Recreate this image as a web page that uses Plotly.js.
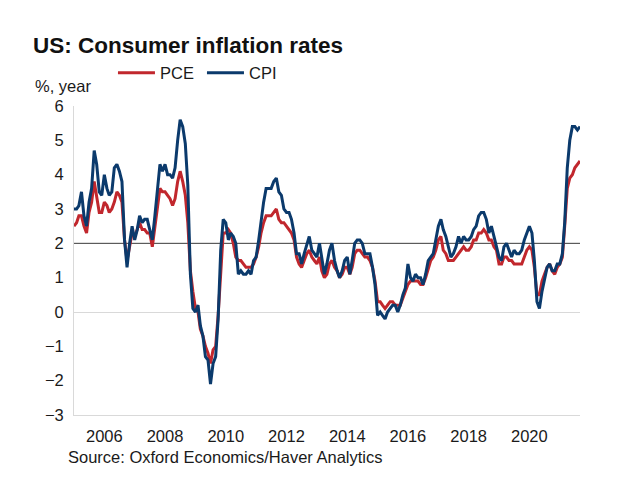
<!DOCTYPE html>
<html>
<head>
<meta charset="utf-8">
<script src="https://cdn.plot.ly/plotly-3.0.1.min.js"></script>
<style>
  html, body { margin: 0; padding: 0; background: #fff; }
  #chart { width: 630px; height: 499px; }
</style>
</head>
<body>
<div id="chart"></div>
<script>
// Monthly data, Jan 2005 .. Sep 2021 (year-on-year %)
const startYear = 2005;
const cpi = [
  3.0, 3.0, 3.1, 3.5, 2.8, 2.5, 3.2, 3.6, 4.7, 4.3, 3.5, 3.4,   // 2005
  4.0, 3.6, 3.4, 3.5, 4.2, 4.3, 4.1, 3.8, 2.1, 1.3, 2.0, 2.5,   // 2006
  2.1, 2.4, 2.8, 2.6, 2.7, 2.7, 2.4, 2.1, 2.8, 3.5, 4.3, 4.1,   // 2007
  4.3, 4.0, 4.0, 3.9, 4.2, 5.0, 5.6, 5.4, 4.9, 3.7, 1.1, 0.1,   // 2008
  0.0, 0.2, -0.4, -0.7, -1.3, -1.4, -2.1, -1.5, -1.3, -0.2, 1.8, 2.7, // 2009
  2.6, 2.1, 2.3, 2.2, 2.0, 1.1, 1.2, 1.1, 1.1, 1.2, 1.1, 1.5,   // 2010
  1.6, 2.1, 2.7, 3.2, 3.6, 3.6, 3.6, 3.8, 3.9, 3.5, 3.4, 3.0,   // 2011
  2.9, 2.9, 2.7, 2.3, 1.7, 1.7, 1.4, 1.7, 2.0, 2.2, 1.8, 1.7,   // 2012
  1.6, 2.0, 1.5, 1.1, 1.4, 1.8, 2.0, 1.5, 1.2, 1.0, 1.2, 1.5,   // 2013
  1.6, 1.1, 1.5, 2.0, 2.1, 2.1, 2.0, 1.7, 1.7, 1.7, 1.3, 0.8,   // 2014
  -0.1, 0.0, -0.1, -0.2, 0.0, 0.1, 0.2, 0.2, 0.0, 0.2, 0.5, 0.7, // 2015
  1.4, 1.0, 0.9, 1.1, 1.0, 1.0, 0.8, 1.1, 1.5, 1.6, 1.7, 2.1,   // 2016
  2.5, 2.7, 2.4, 2.2, 1.9, 1.6, 1.7, 1.9, 2.2, 2.0, 2.2, 2.1,   // 2017
  2.1, 2.2, 2.4, 2.5, 2.8, 2.9, 2.9, 2.7, 2.3, 2.5, 2.2, 1.9,   // 2018
  1.6, 1.5, 1.9, 2.0, 1.8, 1.6, 1.8, 1.7, 1.7, 1.8, 2.1, 2.3,   // 2019
  2.5, 2.3, 1.5, 0.3, 0.1, 0.6, 1.0, 1.3, 1.4, 1.2, 1.2, 1.4,   // 2020
  1.4, 1.7, 2.6, 4.2, 5.0, 5.4, 5.4, 5.3, 5.4                   // 2021
];
const pce = [
  2.5, 2.6, 2.8, 2.8, 2.5, 2.3, 2.9, 3.2, 3.8, 3.4, 2.9, 2.9,   // 2005
  3.2, 3.1, 2.9, 3.0, 3.2, 3.5, 3.4, 3.2, 2.1, 1.5, 1.9, 2.3,   // 2006
  2.2, 2.4, 2.6, 2.4, 2.4, 2.3, 2.3, 1.9, 2.5, 3.1, 3.6, 3.5,   // 2007
  3.5, 3.4, 3.3, 3.1, 3.3, 3.8, 4.1, 3.8, 3.4, 2.6, 1.2, 0.6,   // 2008
  0.1, 0.0, -0.5, -0.7, -1.0, -1.2, -1.5, -1.1, -1.0, -0.1, 1.3, 2.3, // 2009
  2.3, 2.4, 2.3, 2.0, 1.6, 1.5, 1.5, 1.4, 1.3, 1.3, 1.3, 1.4,   // 2010
  1.6, 1.9, 2.3, 2.6, 2.8, 2.8, 2.8, 2.9, 3.0, 2.7, 2.6, 2.6,   // 2011
  2.5, 2.4, 2.3, 2.1, 1.6, 1.4, 1.3, 1.5, 1.7, 1.8, 1.6, 1.5,   // 2012
  1.4, 1.6, 1.2, 1.0, 1.1, 1.4, 1.5, 1.3, 1.2, 1.0, 1.1, 1.3,   // 2013
  1.3, 1.1, 1.3, 1.7, 1.8, 1.8, 1.7, 1.6, 1.6, 1.5, 1.3, 0.9,   // 2014
  0.3, 0.3, 0.2, 0.1, 0.2, 0.3, 0.3, 0.2, 0.2, 0.2, 0.4, 0.6,   // 2015
  0.8, 0.9, 0.9, 0.9, 0.9, 0.8, 0.8, 1.0, 1.3, 1.5, 1.6, 1.8,   // 2016
  2.1, 2.2, 1.8, 1.7, 1.5, 1.5, 1.5, 1.6, 1.7, 1.8, 1.9, 1.8,   // 2017
  1.8, 1.9, 2.1, 2.1, 2.3, 2.3, 2.4, 2.3, 2.1, 2.1, 1.9, 1.8,   // 2018
  1.4, 1.4, 1.6, 1.6, 1.5, 1.5, 1.4, 1.4, 1.4, 1.4, 1.6, 1.8,   // 2019
  1.9, 1.8, 1.3, 0.5, 0.5, 0.9, 1.1, 1.3, 1.4, 1.2, 1.1, 1.3,   // 2020
  1.4, 1.6, 2.5, 3.6, 3.9, 4.0, 4.2, 4.3, 4.4                   // 2021
];
const tickYears = ['2006', '2008', '2010', '2012', '2014', '2016', '2018', '2020'];
const yTicks = [-3, -2, -1, 0, 1, 2, 3, 4, 5, 6];
const targetRate = 2;

const months = cpi.map((_, i) => {
  const y = startYear + Math.floor(i / 12);
  const m = (i % 12) + 1;
  return y + '-' + (m < 10 ? '0' + m : m) + '-01';
});

const FONT = 'Liberation Sans, Arial, sans-serif';
const FS = 16.5;
const RED = '#c1272d';
const BLUE = '#0b3a6c';

const traces = [
  { x: months, y: pce, name: 'PCE', type: 'scatter', mode: 'lines',
    line: { color: RED, width: 3 } },
  { x: months, y: cpi, name: 'CPI', type: 'scatter', mode: 'lines',
    line: { color: BLUE, width: 3 } }
];

const layout = {
  width: 630, height: 499,
  paper_bgcolor: '#ffffff', plot_bgcolor: '#ffffff',
  margin: { l: 74, r: 50, t: 106, b: 84 },
  font: { family: FONT, size: FS, color: '#1a1a1a' },
  title: {
    text: '<b>US: Consumer inflation rates</b>',
    font: { family: FONT, size: 22.5, color: '#111' },
    xref: 'container', yref: 'container',
    x: 33 / 630, xanchor: 'left',
    y: 1 - 45 / 499, yanchor: 'middle'
  },
  showlegend: true,
  legend: {
    orientation: 'h', xref: 'paper', yref: 'paper',
    x: 0.077, xanchor: 'left', y: (415 - 73) / 309, yanchor: 'middle',
    font: { family: FONT, size: FS, color: '#1a1a1a' },
    bgcolor: 'rgba(0,0,0,0)', borderwidth: 0,
    itemwidth: 37,
    entrywidth: 37, entrywidthmode: 'pixels', traceorder: 'normal'
  },
  xaxis: {
    type: 'date',
    range: [months[0], months[months.length - 1]],
    tickvals: tickYears.map(y => y + '-01-01'),
    ticktext: tickYears,
    showgrid: false, zeroline: false,
    showline: true, linecolor: '#d9d9d9', linewidth: 1,
    ticks: '', ticklabelstandoff: 6,
    tickfont: { family: FONT, size: FS, color: '#1a1a1a' },
    fixedrange: true
  },
  yaxis: {
    range: [-3, 6],
    tickvals: yTicks,
    showgrid: false,
    zeroline: true, zerolinecolor: '#d9d9d9', zerolinewidth: 1,
    showline: true, linecolor: '#d9d9d9', linewidth: 1,
    ticks: '', ticklabelstandoff: 6,
    tickfont: { family: FONT, size: FS, color: '#1a1a1a' },
    fixedrange: true
  },
  shapes: [{
    type: 'line', xref: 'paper', yref: 'y',
    x0: 0, x1: 1, y0: targetRate, y1: targetRate,
    line: { color: '#3a3a3a', width: 1 }, layer: 'below'
  }],
  annotations: [
    { text: '%, year', xref: 'paper', yref: 'paper',
      x: (33 - 74) / 506, xanchor: 'left', y: (415 - 86) / 309, yanchor: 'middle',
      showarrow: false, font: { family: FONT, size: FS, color: '#1a1a1a' } },
    { text: 'Source: Oxford Economics/Haver Analytics', xref: 'paper', yref: 'paper',
      x: (66 - 74) / 506, xanchor: 'left', y: (415 - 457) / 309, yanchor: 'middle',
      showarrow: false, font: { family: FONT, size: FS, color: '#1a1a1a' } }
  ]
};

Plotly.newPlot('chart', traces, layout, { displayModeBar: false, staticPlot: true });
</script>
</body>
</html>
